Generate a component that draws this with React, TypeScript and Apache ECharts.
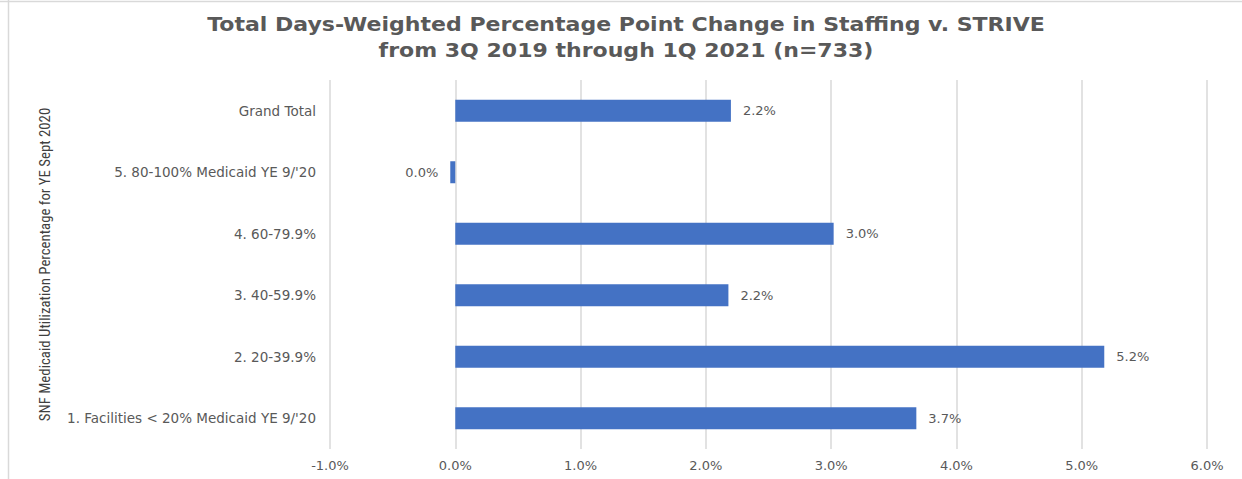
import React, { useEffect, useRef } from "react";
import * as echarts from "echarts";

const categories = [
  "Grand Total",
  "5. 80-100% Medicaid YE 9/'20",
  "4. 60-79.9%",
  "3. 40-59.9%",
  "2. 20-39.9%",
  "1. Facilities < 20% Medicaid YE 9/'20",
];
const values = [2.2, -0.04, 3.02, 2.18, 5.18, 3.68];
const titleLines = [
  "Total Days-Weighted Percentage Point Change in Staffing v. STRIVE",
  "from 3Q 2019 through 1Q 2021 (n=733)",
];
const yAxisName = "SNF Medicaid Utilization Percentage for YE Sept 2020";

export default function App() {
  const ref = useRef<HTMLDivElement>(null);
  useEffect(() => {
    if (!ref.current) return;
    const chart = echarts.init(ref.current, null, { renderer: "svg" });
    const wide = "'DejaVu Sans', sans-serif";
    const titleStyle = {
      fontFamily: wide,
      fontWeight: "bold",
      fontSize: 19,
      fill: "#595959",
      textAlign: "center",
      textVerticalAlign: "middle",
    };
    chart.setOption({
      animation: false,
      backgroundColor: "#ffffff",
      grid: { left: 330, right: 35, top: 80, bottom: 30, containLabel: false },
      xAxis: {
        type: "value",
        min: -1,
        max: 6,
        interval: 1,
        axisLine: { show: false },
        axisTick: { show: false },
        axisLabel: {
          formatter: (v: number) => v.toFixed(1) + "%",
          color: "#595959",
          fontFamily: wide,
          fontSize: 13,
          margin: 10,
        },
        splitLine: { show: true, lineStyle: { color: "#d9d9d9", width: 1.5 } },
      },
      yAxis: {
        type: "category",
        data: categories,
        inverse: true,
        axisLine: { show: false },
        axisTick: { show: false },
        axisLabel: {
          color: "#595959",
          fontFamily: wide,
          fontSize: 13.5,
          margin: 14,
        },
        name: yAxisName,
        nameLocation: "middle",
        nameRotate: 90,
        nameGap: 278,
        nameTextStyle: {
          color: "#404040",
          fontFamily:
            "'Liberation Sans Narrow', 'Roboto Condensed', 'DejaVu Sans Condensed', sans-serif",
          fontSize: 14.8,
        },
      },
      series: [
        {
          type: "bar",
          data: values.map((v) =>
            v < 0 ? { value: v, label: { position: "left" } } : v
          ),
          barWidth: 22,
          itemStyle: { color: "#4472C4" },
          label: {
            show: true,
            position: "right",
            distance: 12,
            formatter: (p: any) =>
              Math.abs(p.value) < 0.05 ? "0.0%" : p.value.toFixed(1) + "%",
            color: "#595959",
            fontFamily: wide,
            fontSize: 13,
          },
        },
      ],
      graphic: [
        { type: "line", shape: { x1: 0, y1: 1.5, x2: 1242, y2: 1.5 }, style: { stroke: "#d9d9d9", lineWidth: 1.5 } },
        { type: "line", shape: { x1: 8.5, y1: 0, x2: 8.5, y2: 479 }, style: { stroke: "#d9d9d9", lineWidth: 1.5 } },
        { type: "text", x: 626, y: 25, scaleX: 1.16, style: { ...titleStyle, text: titleLines[0] } },
        { type: "text", x: 626, y: 51, scaleX: 1.16, style: { ...titleStyle, text: titleLines[1] } },
      ],
    });
    return () => chart.dispose();
  }, []);
  return (
    <div
      ref={ref}
      style={{ position: "absolute", left: 0, top: 0, width: 1242, height: 479 }}
    />
  );
}
